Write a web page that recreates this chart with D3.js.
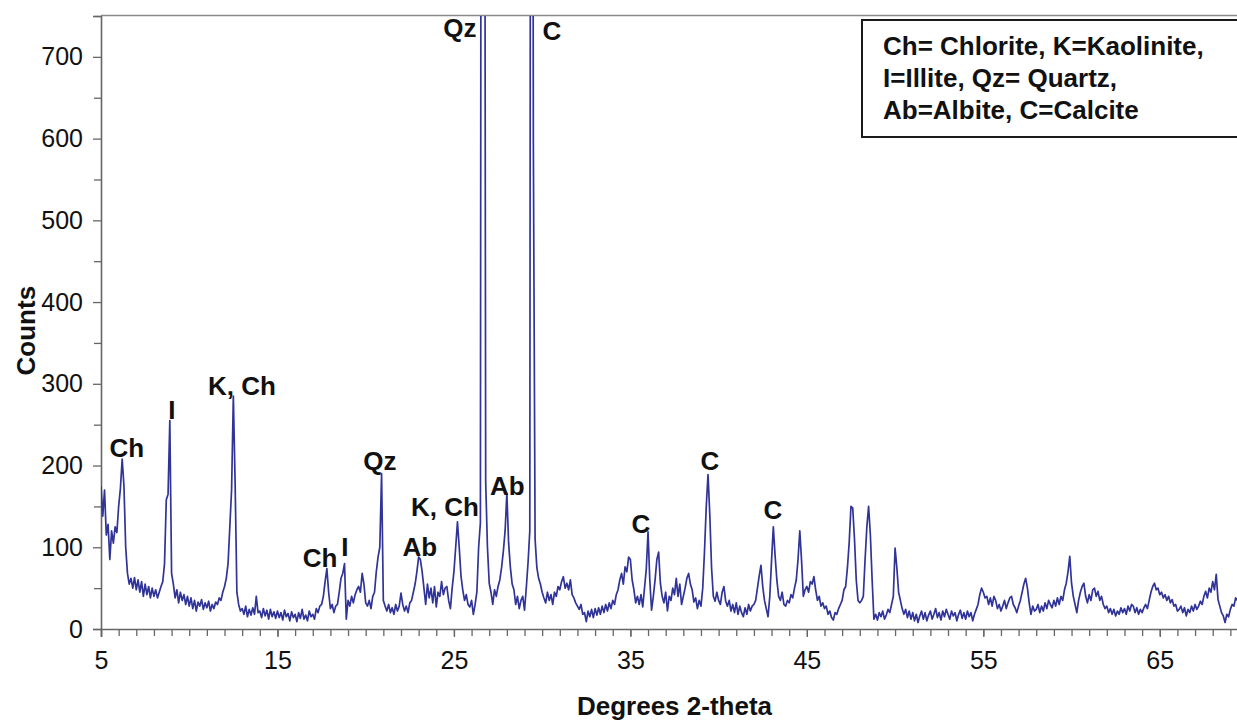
<!DOCTYPE html>
<html>
<head>
<meta charset="utf-8">
<script src="https://cdn.jsdelivr.net/npm/d3@7"></script>
<style>
  body { margin: 0; background: #fff; }
  text { font-family: "Liberation Sans", Arial, sans-serif; }
  .label { font-weight: bold; font-size: 26px; fill: #111; }
  .tick text { font-size: 25px; fill: #111; }
</style>
</head>
<body>
<svg id="chart" width="1237" height="722"></svg>
<script>
// XRD scan: start angle, step, and counts (one row per degree)
const startAngle = 5;
const stepSize = 0.1;
const counts = [
  175, 138, 170, 115, 128, 85, 120, 105, 125, 118, // 5
  150, 172, 208, 175, 100, 68, 55, 62, 50, 63, // 6
  48, 60, 45, 58, 40, 55, 42, 52, 38, 50, // 7
  40, 48, 38, 45, 52, 58, 80, 158, 165, 255, // 8
  68, 55, 38, 48, 32, 45, 35, 42, 30, 40, // 9
  28, 38, 25, 35, 22, 33, 28, 36, 24, 32, // 10
  26, 34, 22, 30, 25, 33, 30, 38, 35, 45, // 11
  52, 62, 80, 125, 170, 285, 180, 45, 30, 22, // 12
  25, 18, 28, 15, 24, 17, 26, 18, 40, 20, // 13
  22, 14, 25, 16, 23, 12, 24, 15, 21, 13, // 14
  22, 14, 20, 11, 23, 15, 19, 10, 21, 14, // 15
  18, 9, 20, 13, 24, 12, 17, 10, 22, 15, // 16
  18, 12, 25, 20, 28, 30, 40, 58, 74, 45, // 17
  25, 30, 20, 28, 30, 45, 62, 68, 80, 12, // 18
  35, 28, 40, 32, 42, 48, 52, 45, 68, 55, // 19
  32, 28, 35, 25, 40, 45, 70, 88, 100, 190, // 20
  35, 28, 22, 30, 20, 26, 18, 30, 22, 28, // 21
  44, 30, 22, 28, 20, 32, 35, 45, 55, 70, // 22
  88, 85, 70, 50, 30, 55, 38, 50, 32, 52, // 23
  27, 45, 40, 58, 42, 50, 52, 35, 25, 50, // 24
  70, 100, 131, 100, 65, 48, 35, 42, 30, 27, // 25
  35, 18, 30, 45, 100, 130, 2500, 1800, 180, 100, // 26
  56, 45, 30, 48, 40, 52, 60, 75, 95, 120, // 27
  166, 105, 75, 55, 48, 30, 40, 25, 35, 40, // 28
  23, 50, 81, 120, 2500, 600, 110, 75, 62, 55, // 29
  45, 38, 32, 45, 35, 42, 30, 45, 40, 52, // 30
  48, 58, 64, 50, 56, 48, 60, 42, 38, 32, // 31
  28, 24, 30, 18, 20, 9, 22, 15, 24, 14, // 32
  25, 17, 26, 18, 28, 20, 30, 22, 32, 25, // 33
  35, 30, 42, 48, 60, 68, 55, 76, 70, 88, // 34
  85, 60, 48, 32, 40, 30, 42, 27, 50, 73, // 35
  119, 60, 23, 40, 60, 85, 94, 56, 40, 32, // 36
  45, 22, 40, 35, 50, 42, 62, 40, 55, 30, // 37
  40, 50, 62, 68, 55, 48, 33, 38, 25, 35, // 38
  28, 50, 95, 150, 189, 140, 75, 40, 34, 45, // 39
  35, 30, 45, 52, 34, 28, 35, 22, 30, 20, // 40
  32, 18, 28, 20, 15, 26, 18, 30, 22, 28, // 41
  30, 35, 50, 65, 78, 52, 35, 25, 15, 40, // 42
  84, 125, 90, 60, 40, 35, 45, 30, 28, 35, // 43
  32, 42, 38, 50, 60, 85, 120, 84, 40, 48, // 44
  52, 45, 58, 55, 64, 48, 35, 40, 28, 32, // 45
  25, 28, 18, 22, 14, 11, 20, 18, 25, 30, // 46
  35, 48, 52, 75, 106, 150, 148, 110, 60, 35, // 47
  32, 35, 40, 85, 125, 150, 115, 60, 12, 18, // 48
  11, 20, 15, 22, 12, 17, 24, 20, 30, 40, // 49
  99, 75, 45, 35, 25, 18, 24, 14, 22, 12, // 50
  20, 10, 18, 8, 16, 22, 12, 20, 10, 17, // 51
  22, 12, 18, 25, 14, 20, 11, 22, 15, 24, // 52
  18, 12, 22, 16, 20, 10, 18, 23, 13, 20, // 53
  12, 22, 15, 20, 10, 18, 24, 30, 42, 50, // 54
  45, 38, 40, 30, 38, 28, 40, 35, 25, 30, // 55
  22, 28, 35, 25, 32, 38, 40, 30, 26, 20, // 56
  28, 35, 45, 55, 62, 50, 32, 18, 28, 22, // 57
  24, 30, 20, 28, 22, 32, 25, 35, 30, 26, // 58
  35, 28, 38, 30, 40, 35, 48, 56, 70, 89, // 59
  56, 40, 30, 20, 35, 45, 52, 56, 40, 32, // 60
  42, 35, 48, 50, 40, 46, 35, 40, 30, 25, // 61
  28, 20, 25, 18, 24, 16, 22, 18, 26, 20, // 62
  25, 18, 28, 22, 30, 28, 20, 26, 18, 24, // 63
  20, 26, 30, 25, 35, 45, 52, 56, 48, 50, // 64
  42, 45, 38, 42, 35, 40, 32, 36, 28, 30, // 65
  22, 24, 28, 20, 26, 16, 24, 20, 28, 22, // 66
  30, 24, 28, 34, 30, 40, 46, 38, 50, 45, // 67
  58, 48, 67, 36, 28, 20, 16, 8, 18, 15, // 68
  24, 30, 28, 38, 35, 30, 40, 32, 36, 30, // 69
  28 // 70
];

// Peak annotations: text, angle and count where the label baseline sits
const peakLabels = ["Ch", "I", "K, Ch", "Ch", "I", "Qz", "Ab", "K, Ch", "Qz", "Ab", "C", "C", "C", "C"];
const peakAngles = [6.47, 9.02, 12.99, 17.41, 18.82, 20.81, 23.07, 24.49, 25.34, 28.03, 30.55, 35.59, 39.5, 43.07];
const peakCounts = [210, 257, 286, 76, 89, 195, 89, 138, 724, 164, 721, 117, 195, 135];

const legendLines = ["Ch= Chlorite, K=Kaolinite,", "I=Illite, Qz= Quartz,", "Ab=Albite, C=Calcite"];

const xTicks = [5, 15, 25, 35, 45, 55, 65];
const yTicks = [0, 100, 200, 300, 400, 500, 600, 700];

const data = counts.map((c, i) => ({ angle: startAngle + i * stepSize, count: c }));

const svg = d3.select("#chart");
const margin = { top: 16, left: 101 };
const plotBottom = 629;
const plotRight = 1248;

const xScale = d3.scaleLinear().domain([5, 70]).range([margin.left, plotRight]);
const yScale = d3.scaleLinear().domain([0, 750]).range([plotBottom, margin.top]);

svg.append("rect").attr("width", 1237).attr("height", 722).attr("fill", "#fff");

// top frame line
svg.append("line")
  .attr("x1", margin.left).attr("x2", plotRight)
  .attr("y1", margin.top - 0.5).attr("y2", margin.top - 0.5)
  .attr("stroke", "#8a8a8a").attr("stroke-width", 1.5);

// minor ticks
svg.append("g")
  .attr("transform", `translate(0,${plotBottom})`)
  .call(d3.axisBottom(xScale).ticks(65).tickSize(7).tickFormat(""))
  .call((g) => g.select(".domain").remove())
  .selectAll("line").attr("stroke", "#666").attr("stroke-width", 1.3);

svg.append("g")
  .attr("transform", `translate(${margin.left},0)`)
  .call(d3.axisLeft(yScale).tickValues(d3.range(50, 751, 100)).tickSize(7).tickFormat(""))
  .call((g) => g.select(".domain").remove())
  .selectAll("line").attr("stroke", "#666").attr("stroke-width", 1.3);

// major axes
const xAxisG = svg.append("g")
  .attr("transform", `translate(0,${plotBottom})`)
  .call(d3.axisBottom(xScale).tickValues(xTicks).tickSize(8).tickPadding(14).tickFormat(d3.format("d")));
xAxisG.select(".domain").attr("stroke", "#666").attr("stroke-width", 1.6);
xAxisG.selectAll(".tick line").attr("stroke", "#666").attr("stroke-width", 1.3);

const yAxisG = svg.append("g")
  .attr("transform", `translate(${margin.left},0)`)
  .call(d3.axisLeft(yScale).tickValues(yTicks).tickSize(8).tickPadding(10).tickFormat(d3.format("d")));
yAxisG.select(".domain").attr("stroke", "#666").attr("stroke-width", 1.6);
yAxisG.selectAll(".tick line").attr("stroke", "#666").attr("stroke-width", 1.3);

svg.selectAll(".tick text").attr("font-family", null);

// trace
svg.append("clipPath").attr("id", "plotClip")
  .append("rect")
  .attr("x", margin.left).attr("y", margin.top)
  .attr("width", plotRight - margin.left).attr("height", plotBottom - margin.top);

const line = d3.line().x((d) => xScale(d.angle)).y((d) => yScale(d.count));

svg.append("path")
  .datum(data)
  .attr("clip-path", "url(#plotClip)")
  .attr("fill", "none")
  .attr("stroke", "#303398")
  .attr("stroke-width", 1.7)
  .attr("stroke-linejoin", "round")
  .attr("d", line);

// peak labels
svg.append("g")
  .selectAll("text")
  .data(peakLabels)
  .enter()
  .append("text")
  .attr("class", "label")
  .attr("text-anchor", "middle")
  .attr("x", (d, i) => xScale(peakAngles[i]))
  .attr("y", (d, i) => yScale(peakCounts[i]))
  .text((d) => d);

// legend box
const legend = svg.append("g");
legend.append("rect")
  .attr("x", 862).attr("y", 20)
  .attr("width", 400).attr("height", 117)
  .attr("fill", "#fff").attr("stroke", "#1a1a1a").attr("stroke-width", 2);
legend.selectAll("text")
  .data(legendLines)
  .enter()
  .append("text")
  .attr("class", "label")
  .attr("font-size", "27.5px")
  .attr("x", 883)
  .attr("y", (d, i) => 55 + i * 32)
  .text((d) => d);

// axis titles
svg.append("text")
  .attr("class", "label")
  .attr("font-size", "23px")
  .attr("text-anchor", "middle")
  .attr("x", xScale(37.5))
  .attr("y", 715)
  .text("Degrees 2-theta");

svg.append("text")
  .attr("class", "label")
  .attr("font-size", "23px")
  .attr("text-anchor", "middle")
  .attr("transform", `translate(35,${yScale(365)}) rotate(-90)`)
  .text("Counts");
</script>
</body>
</html>
